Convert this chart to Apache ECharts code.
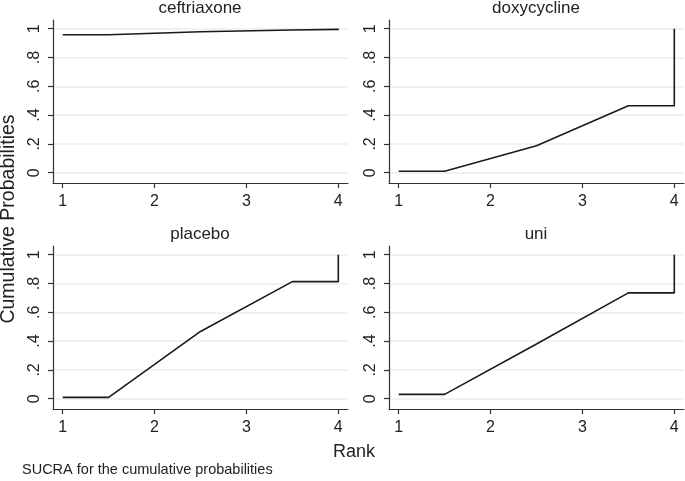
<!DOCTYPE html>
<html>
<head>
<meta charset="utf-8">
<script src="https://cdn.jsdelivr.net/npm/echarts@6/dist/echarts.min.js"></script>
<style>
html,body{margin:0;padding:0;background:#fff;}
#chart{width:685px;height:481px;}
</style>
</head>
<body>
<div id="chart"></div>
<script>
// ---- data ----
const treatments = ['ceftriaxone', 'doxycycline', 'placebo', 'uni'];
const rankX = [1, 1.5, 2.5, 3.5, 4, 4];
const ceftriaxone = [0.958, 0.958, 0.979, 0.991, 0.995, 1];
const doxycycline = [0.010, 0.010, 0.187, 0.465, 0.465, 1];
const placebo = [0.009, 0.009, 0.467, 0.813, 0.813, 1];
const uni = [0.030, 0.030, 0.380, 0.735, 0.735, 1];
const xTicks = [1, 2, 3, 4];
const yTicks = [0, 0.2, 0.4, 0.6, 0.8, 1];
const yTickLabels = ['0', '.2', '.4', '.6', '.8', '1'];
const yTitle = 'Cumulative Probabilities';
const xTitle = 'Rank';
const note = 'SUCRA for the cumulative probabilities';

const seriesValues = [ceftriaxone, doxycycline, placebo, uni];
const FONT = '"Liberation Sans", Arial, sans-serif';

// ---- layout ----
const panels = [
  {left: 53, top: 20, titleX: 200, titleY: 8.5},
  {left: 389, top: 20, titleX: 536, titleY: 8.5},
  {left: 53, top: 246, titleX: 200, titleY: 234},
  {left: 389, top: 246, titleX: 536, titleY: 234}
];
const PW = 295, PH = 163;

const grids = [], xAxes = [], yAxes = [], series = [], graphics = [];
panels.forEach((p, i) => {
  grids.push({left: p.left, top: p.top, width: PW, height: PH, containLabel: false});
  xAxes.push({
    type: 'value', gridIndex: i, min: 0.8944, max: 4.1056,
    axisLine: {show: true, onZero: false, lineStyle: {color: '#333', width: 1.2}},
    axisTick: {show: true, length: 5, customValues: xTicks, lineStyle: {color: '#333', width: 1.2}},
    axisLabel: {customValues: xTicks, margin: 11, color: '#222', fontSize: 16, fontFamily: FONT,
      formatter: v => String(Math.round(v))},
    splitLine: {show: false}
  });
  yAxes.push({
    type: 'value', gridIndex: i, min: -0.0715, max: 1.0604,
    axisLine: {show: true, onZero: false, lineStyle: {color: '#333', width: 1.2}},
    axisTick: {show: true, length: 5, customValues: yTicks, lineStyle: {color: '#333', width: 1.2}},
    axisLabel: {customValues: yTicks, margin: 10, rotate: 90, color: '#222', fontSize: 16, fontFamily: FONT,
      formatter: v => {
        const idx = yTicks.findIndex(t => Math.abs(t - v) < 1e-6);
        return idx >= 0 ? yTickLabels[idx] : '';
      }},
    splitLine: {show: true, lineStyle: {color: '#ececec', width: 1.5}}
  });
  series.push({
    type: 'line', xAxisIndex: i, yAxisIndex: i,
    data: rankX.map((x, k) => [x, seriesValues[i][k]]),
    showSymbol: false, symbol: 'none', silent: true,
    lineStyle: {color: '#1a1a1a', width: 1.6}
  });
  graphics.push({
    type: 'text', x: p.titleX, y: p.titleY,
    style: {text: treatments[i], font: '17px ' + FONT, fill: '#222', textAlign: 'center', textVerticalAlign: 'middle'}
  });
});

graphics.push({
  type: 'text', x: 8.5, y: 219, rotation: Math.PI / 2,
  style: {text: yTitle, font: '19.5px ' + FONT, fill: '#222', textAlign: 'center', textVerticalAlign: 'middle'}
});
graphics.push({
  type: 'text', x: 354, y: 452,
  style: {text: xTitle, font: '18px ' + FONT, fill: '#222', textAlign: 'center', textVerticalAlign: 'middle'}
});
graphics.push({
  type: 'text', x: 22, y: 470,
  style: {text: note, font: '14.5px ' + FONT, fill: '#222', textAlign: 'left', textVerticalAlign: 'middle'}
});

const chart = echarts.init(document.getElementById('chart'), null, {renderer: 'canvas'});
chart.setOption({
  animation: false,
  backgroundColor: '#fff',
  grid: grids,
  xAxis: xAxes,
  yAxis: yAxes,
  series: series,
  graphic: graphics
});
</script>
</body>
</html>
